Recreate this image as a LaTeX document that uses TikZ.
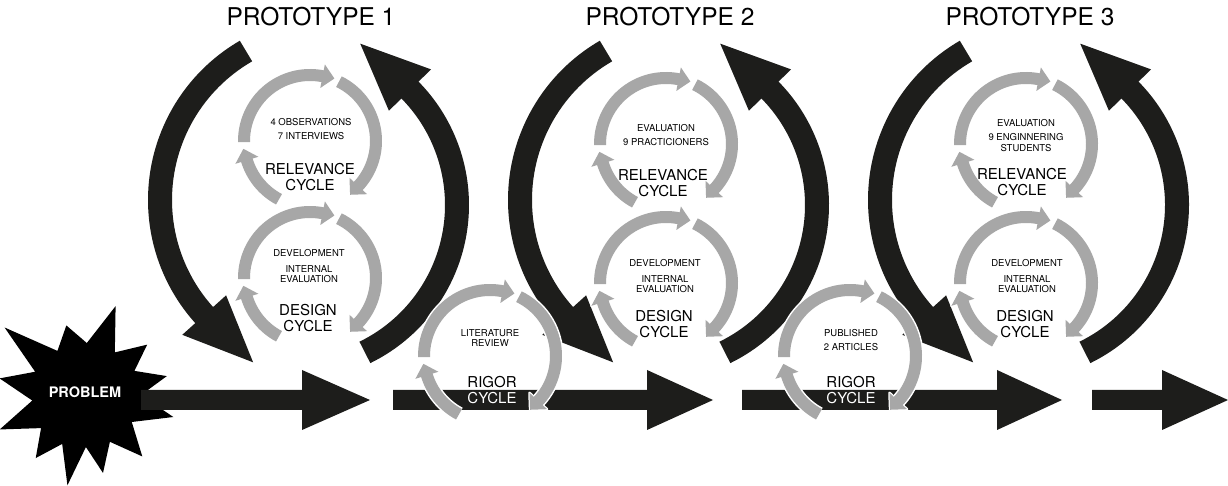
\documentclass[tikz,border=0pt]{standalone}
\usepackage{fontspec}
\setmainfont{TeX Gyre Heros}
\usetikzlibrary{calc}
\definecolor{darkfill}{RGB}{29,29,27}
\definecolor{cyclegrey}{RGB}{167,167,167}

\newcommand{\fatarrow}[3]{%
  \fill[darkfill] (#1,76) -- (#2,76) -- (#2,56) -- (#3,86) -- (#2,116) -- (#2,96) -- (#1,96) -- cycle;}

\newcommand{\bigloop}[1]{%
  \begin{scope}[shift={(332+#1,286)}]
    \draw[bigarc] (120:172) arc[start angle=120,end angle=222.5,radius=172];
    \fill[darkfill] (222:201.5) -- (222:142.5) -- ($(222:172)+(316:68)$) -- cycle;
  \end{scope}
  \begin{scope}[shift={(293+#1,281)}]
    \draw[bigarc] (-64:164) arc[start angle=-64,end angle=45,radius=164];
    \fill[darkfill] (44.5:193.5) -- (44.5:134.5) -- ($(44.5:164)+(137:68)$) -- cycle;
  \end{scope}}

\newcommand{\greycycle}[2]{%
  \begin{scope}[shift={(#1,#2)}]
    \foreach \s/\e in {242/197,181/79,64/-43}{
      \draw[white,line width=15pt] (\s:66) arc[start angle=\s,end angle=\e,radius=66];
      \filldraw[white,line width=2.5pt,line join=round] (\e:78) -- (\e:54) -- ($(\e:66)+({\e-90}:12)$) -- cycle;}
    \foreach \s/\e in {242/197,181/79,64/-43}{
      \draw[cyclearc] (\s:66) arc[start angle=\s,end angle=\e-0.5,radius=66];
      \fill[cyclegrey] (\e:78) -- (\e:54) -- ($(\e:66)+({\e-90}:12)$) -- cycle;}
  \end{scope}}

\begin{document}
\begin{tikzpicture}[x=1pt,y=1pt]
\tikzstyle{bigarc}=[darkfill,line width=24pt]
\tikzstyle{cyclearc}=[cyclegrey,line width=12pt]
\tikzstyle{title}=[inner sep=0pt,font=\fontsize{24.5}{26}\selectfont]
\tikzstyle{cyclename}=[inner sep=0pt,align=center,font=\fontsize{15}{15.5}\selectfont]
\tikzstyle{note}=[inner sep=0pt,align=center,anchor=north,font=\fontsize{9.5}{10.5}\selectfont]
\useasboundingbox (0,0) rectangle (1228,486);

% problem burst
\begin{scope}[shift={(85,91)}]
\fill (71:94) -- (55:52) -- (39:80) -- (26:55) -- (13:84) -- (0:56) -- (-14:91) -- (-30:54)
  -- (-47:84) -- (-62:53) -- (-77:80) -- (-89:52) -- (-101:92) -- (-115:54) -- (-128:80)
  -- (-143:55) -- (-158:92) -- (-174:53) -- (169:87) -- (155:55) -- (140:105) -- (122:52)
  -- (105:72) -- (88:52) -- cycle;
\end{scope}
\node[white,font=\fontsize{14.5}{15}\selectfont\bfseries] (problem) at (85,94) {PROBLEM};

\fatarrow{141}{302}{370}
\fatarrow{393}{647}{713}
\fatarrow{742}{997}{1062}
\fatarrow{1092}{1162}{1228}

\foreach \dx in {0,360,720} {\bigloop{\dx}}

\greycycle{310}{345}
\greycycle{310}{208}
\greycycle{666}{342}
\greycycle{666}{203}
\greycycle{1026}{342}
\greycycle{1026}{203}
\greycycle{490}{130}
\greycycle{850}{130}

\node[title] (proto1) at (311,469) {PROTOTYPE 1};
\node[title] (proto2) at (670,469) {PROTOTYPE 2};
\node[title] (proto3) at (1030,469) {PROTOTYPE 3};

\node[note] (obs1) at (311,368) {4 OBSERVATIONS\\[3.5pt]7 INTERVIEWS};
\node[cyclename] (rel1) at (310,309) {RELEVANCE\\CYCLE};
\node[note] (dev1) at (309,237) {DEVELOPMENT\\[5.5pt]INTERNAL\\EVALUATION};
\node[cyclename] (des1) at (308,168) {DESIGN\\CYCLE};

\node[note] (obs2) at (666,362) {EVALUATION\\[4pt]9 PRACTICIONERS};
\node[cyclename] (rel2) at (663,303) {RELEVANCE\\CYCLE};
\node[note] (dev2) at (665,227) {DEVELOPMENT\\[5.5pt]INTERNAL\\EVALUATION};
\node[cyclename] (des2) at (664,162) {DESIGN\\CYCLE};

\node[note] (obs3) at (1026,367) {EVALUATION\\[4pt]9 ENGINNERING\\STUDENTS};
\node[cyclename] (rel3) at (1022,304) {RELEVANCE\\CYCLE};
\node[note] (dev3) at (1027,227) {DEVELOPMENT\\[5.5pt]INTERNAL\\EVALUATION};
\node[cyclename] (des3) at (1025,162) {DESIGN\\CYCLE};

\node[note] (lit) at (490,157) {LITERATURE\\REVIEW};
\node[cyclename] (rig1) at (492,104) {RIGOR};
\node[cyclename,white] (rigc1) at (492,88) {CYCLE};
\node[note] (pub) at (851,157) {PUBLISHED\\[3.5pt]2 ARTICLES};
\node[cyclename] (rig2) at (851,104) {RIGOR};
\node[cyclename,white] (rigc2) at (851,88) {CYCLE};
\end{tikzpicture}
\end{document}
